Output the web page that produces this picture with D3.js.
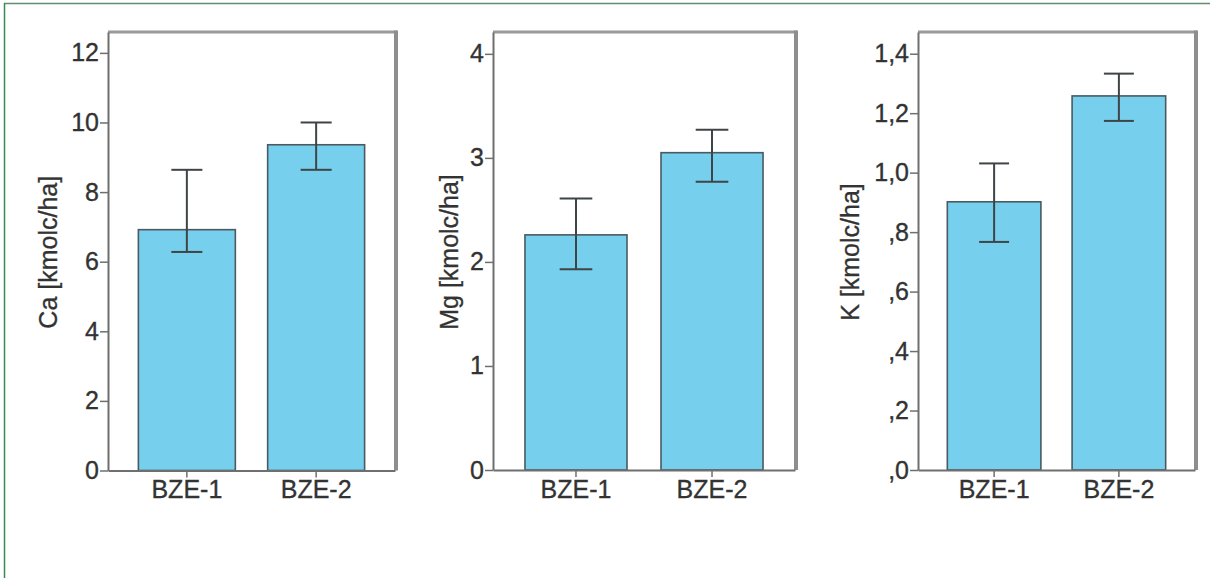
<!DOCTYPE html>
<html>
<head>
<meta charset="utf-8">
<script src="https://cdn.jsdelivr.net/npm/d3@7"></script>
<style>
  html, body { margin: 0; padding: 0; background: #ffffff; }
  svg { display: block; }
  text { font-family: "Liberation Sans", Arial, sans-serif; fill: #333333; }
</style>
</head>
<body>
<svg id="chart" width="1210" height="578"></svg>
<script>
// ---- data ----
const categories = ["BZE-1", "BZE-2"];

const caMean = [6.92, 9.36];
const caLow  = [6.28, 8.64];
const caHigh = [8.64, 10.0];

const mgMean = [2.26, 3.05];
const mgLow  = [1.93, 2.77];
const mgHigh = [2.61, 3.27];

const kMean = [0.902, 1.258];
const kLow  = [0.767, 1.174];
const kHigh = [1.031, 1.333];

const caTicks = [0, 2, 4, 6, 8, 10, 12];
const caTickLabels = ["0", "2", "4", "6", "8", "10", "12"];
const mgTicks = [0, 1, 2, 3, 4];
const mgTickLabels = ["0", "1", "2", "3", "4"];
const kTicks = [0, 0.2, 0.4, 0.6, 0.8, 1.0, 1.2, 1.4];
const kTickLabels = [",0", ",2", ",4", ",6", ",8", "1,0", "1,2", "1,4"];

const yTitles = ["Ca [kmolc/ha]", "Mg [kmolc/ha]", "K [kmolc/ha]"];
const yMax = [12.6, 4.21, 1.473];

// ---- layout ----
const panels = [
  { left: 108, right: 395, top: 32, bottom: 470.5, titleX: 48,
    mean: caMean, low: caLow, high: caHigh, ticks: caTicks, labels: caTickLabels },
  { left: 493, right: 795, top: 32, bottom: 470, titleX: 449,
    mean: mgMean, low: mgLow, high: mgHigh, ticks: mgTicks, labels: mgTickLabels },
  { left: 918, right: 1195, top: 32, bottom: 470, titleX: 850,
    mean: kMean, low: kLow, high: kHigh, ticks: kTicks, labels: kTickLabels }
];

const svg = d3.select("#chart");

// outer green frame (top + left)
svg.append("line").attr("x1", 4).attr("x2", 1210).attr("y1", 3.5).attr("y2", 3.5)
  .attr("stroke", "#5f8f6c").attr("stroke-width", 1.5);
svg.append("line").attr("x1", 4.5).attr("x2", 4.5).attr("y1", 3).attr("y2", 578)
  .attr("stroke", "#3a8a55").attr("stroke-width", 1.5);

const fontFam = "'Liberation Sans', Arial, sans-serif";

panels.forEach((p, i) => {
  const g = svg.append("g");
  const x = d3.scaleBand().domain(categories).range([p.left, p.right])
    .paddingInner(0.25).paddingOuter(0.235);
  const y = d3.scaleLinear().domain([0, yMax[i]]).range([p.bottom, p.top]);

  // plot background
  g.append("rect").attr("x", p.left).attr("y", p.top)
    .attr("width", p.right - p.left).attr("height", p.bottom - p.top)
    .attr("fill", "#ffffff");

  // bars
  g.selectAll("rect.bar").data(categories).join("rect")
    .attr("class", "bar")
    .attr("x", d => x(d))
    .attr("y", (d, j) => y(p.mean[j]))
    .attr("width", x.bandwidth())
    .attr("height", (d, j) => y(0) - y(p.mean[j]))
    .attr("fill", "#76cfec")
    .attr("stroke", "#4a5a60")
    .attr("stroke-width", 1.6);

  // error bars
  const cap = x.bandwidth() * 0.32;
  const eb = g.selectAll("g.err").data(categories).join("g").attr("class", "err");
  eb.append("line")
    .attr("x1", d => x(d) + x.bandwidth() / 2).attr("x2", d => x(d) + x.bandwidth() / 2)
    .attr("y1", (d, j) => y(p.low[j])).attr("y2", (d, j) => y(p.high[j]))
    .attr("stroke", "#3f4446").attr("stroke-width", 2);
  eb.append("line")
    .attr("x1", d => x(d) + x.bandwidth() / 2 - cap / 2).attr("x2", d => x(d) + x.bandwidth() / 2 + cap / 2)
    .attr("y1", (d, j) => y(p.high[j])).attr("y2", (d, j) => y(p.high[j]))
    .attr("stroke", "#3f4446").attr("stroke-width", 2);
  eb.append("line")
    .attr("x1", d => x(d) + x.bandwidth() / 2 - cap / 2).attr("x2", d => x(d) + x.bandwidth() / 2 + cap / 2)
    .attr("y1", (d, j) => y(p.low[j])).attr("y2", (d, j) => y(p.low[j]))
    .attr("stroke", "#3f4446").attr("stroke-width", 2);

  // frame: top and right (shadowed)
  g.append("line").attr("x1", p.left).attr("x2", p.right + 2)
    .attr("y1", p.top).attr("y2", p.top)
    .attr("stroke", "#9a9a9a").attr("stroke-width", 3);
  g.append("line").attr("x1", p.right + 1).attr("x2", p.right + 1)
    .attr("y1", p.top - 1.5).attr("y2", p.bottom)
    .attr("stroke", "#8e8e8e").attr("stroke-width", 4);

  // y axis
  const yAxis = d3.axisLeft(y).tickValues(p.ticks)
    .tickFormat((d, k) => p.labels[k]).tickSize(8).tickPadding(1).tickSizeOuter(0);
  const ya = g.append("g").attr("transform", `translate(${p.left},0)`).call(yAxis);
  ya.attr("font-size", null).attr("font-family", null);
  ya.select(".domain").attr("stroke", "#6f6f6f").attr("stroke-width", 2);
  ya.selectAll(".tick line").attr("stroke", "#6f6f6f").attr("stroke-width", 1.5);
  ya.selectAll(".tick text")
    .style("font-size", "25px").style("font-family", fontFam)
    .attr("fill", "#333").attr("stroke", "#333").attr("stroke-width", 0.35);

  // x axis
  const xAxis = d3.axisBottom(x).tickSize(7).tickPadding(3).tickSizeOuter(0);
  const xa = g.append("g").attr("transform", `translate(0,${p.bottom})`).call(xAxis);
  xa.attr("font-size", null).attr("font-family", null);
  xa.select(".domain").attr("stroke", "#6f6f6f").attr("stroke-width", 2);
  xa.selectAll(".tick line").attr("stroke", "#6f6f6f").attr("stroke-width", 1.5);
  xa.selectAll(".tick text")
    .style("font-size", "25px").style("font-family", fontFam)
    .attr("fill", "#333").attr("stroke", "#333").attr("stroke-width", 0.35);

  // y title
  g.append("text")
    .attr("transform", `translate(${p.titleX + 9},${(p.top + p.bottom) / 2 + 1}) rotate(-90)`)
    .attr("text-anchor", "middle")
    .style("font-size", "25px").style("font-family", fontFam)
    .attr("fill", "#333").attr("stroke", "#333").attr("stroke-width", 0.3)
    .text(yTitles[i]);
});
</script>
</body>
</html>
